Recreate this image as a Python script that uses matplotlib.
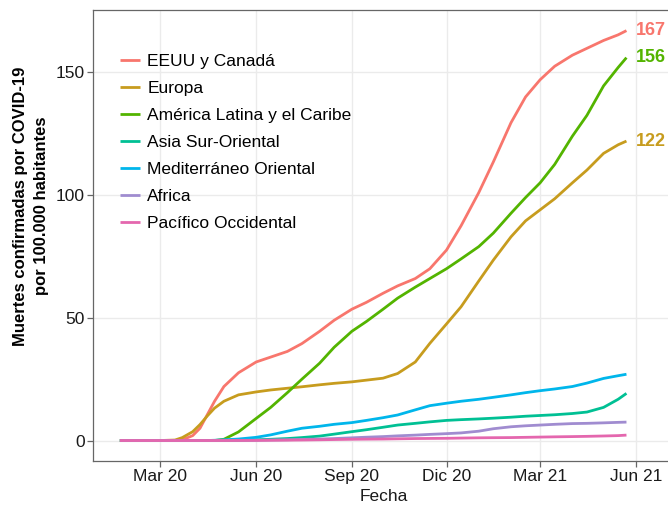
import numpy as np
import pandas as pd
import matplotlib
matplotlib.use('Agg')
import matplotlib.pyplot as plt

plt.rcParams['font.family'] = ['Liberation Sans', 'DejaVu Sans']

# Data
fechas = pd.to_datetime([
    '2020-01-22', '2020-02-15', '2020-03-01', '2020-03-15', '2020-03-22',
    '2020-04-01', '2020-04-08', '2020-04-15', '2020-04-22', '2020-05-01',
    '2020-05-15', '2020-06-01', '2020-06-15', '2020-07-01', '2020-07-15',
    '2020-08-01', '2020-08-15', '2020-09-01', '2020-09-15', '2020-10-01',
    '2020-10-15', '2020-11-01', '2020-11-15', '2020-12-01', '2020-12-15',
    '2021-01-01', '2021-01-15', '2021-02-01', '2021-02-15', '2021-03-01',
    '2021-03-15', '2021-04-01', '2021-04-15', '2021-05-01', '2021-05-15',
    '2021-05-23'])

eeuu_canada = [0, 0, 0, 0, 0.3, 2, 5, 10.5, 16, 22, 27.6, 32, 34, 36.3, 39.5,
               44.5, 49, 53.5, 56.3, 60, 63, 66, 70, 77.6, 87.5, 101, 113.5,
               129.5, 140, 147, 152.5, 157, 159.8, 163, 165.3, 167]
europa = [0, 0, 0, 0.2, 1.2, 3.6, 6.5, 10, 13.2, 16, 18.6, 19.8, 20.6, 21.3,
          21.9, 22.7, 23.3, 23.9, 24.6, 25.4, 27.3, 32, 39.6, 47.5, 54.5, 65,
          73.5, 83, 89.5, 94, 98.5, 105, 110.2, 117, 120.5, 122]
america_latina = [0, 0, 0, 0, 0, 0, 0, 0, 0, 0.5, 3.5, 9, 13.5, 19.5, 25,
                  31.5, 38, 44.5, 48.5, 53.5, 58, 62.5, 66, 70, 74, 79, 84.5,
                  92.6, 99, 105, 112.5, 124, 132.5, 144.5, 152, 156]
asia_sur = [0, 0, 0, 0, 0, 0, 0, 0, 0, 0.05, 0.1, 0.3, 0.5, 0.8, 1.2, 1.8,
            2.6, 3.6, 4.4, 5.4, 6.3, 7, 7.6, 8.2, 8.5, 8.8, 9.1, 9.5, 9.9,
            10.2, 10.5, 11, 11.6, 13.5, 16.8, 19.2]
mediterraneo = [0, 0, 0, 0, 0, 0, 0, 0, 0.1, 0.3, 0.6, 1.3, 2.3, 3.8, 5, 5.8,
                6.6, 7.3, 8.2, 9.3, 10.4, 12.5, 14.2, 15.2, 16, 16.8, 17.6,
                18.6, 19.5, 20.3, 21, 22, 23.4, 25.3, 26.4, 27]
africa = [0, 0, 0, 0, 0, 0, 0, 0, 0, 0.05, 0.08, 0.1, 0.2, 0.3, 0.45, 0.6,
          0.8, 1.1, 1.35, 1.6, 1.9, 2.2, 2.5, 2.8, 3.1, 3.8, 4.8, 5.6, 6.0,
          6.3, 6.6, 6.9, 7.0, 7.2, 7.4, 7.5]
pacifico = [0, 0, 0, 0, 0, 0, 0, 0, 0, 0, 0.02, 0.05, 0.1, 0.15, 0.2, 0.3,
            0.4, 0.5, 0.55, 0.6, 0.7, 0.8, 0.85, 0.9, 1.0, 1.1, 1.15, 1.2,
            1.3, 1.4, 1.5, 1.6, 1.7, 1.85, 2.0, 2.2]

regiones = ['EEUU y Canadá', 'Europa', 'América Latina y el Caribe',
            'Asia Sur-Oriental', 'Mediterráneo Oriental', 'Africa',
            'Pacífico Occidental']
series = [eeuu_canada, europa, america_latina, asia_sur, mediterraneo,
          africa, pacifico]
colores = ['#F8766D', '#C79C1E', '#53B400', '#00C094', '#00B6EB',
           '#A08CD0', '#E467AE']

tick_fechas = pd.to_datetime(['2020-03-01', '2020-06-01', '2020-09-01',
                              '2020-12-01', '2021-03-01', '2021-06-01'])
tick_labels = ['Mar 20', 'Jun 20', 'Sep 20', 'Dic 20', 'Mar 21', 'Jun 21']

fig = plt.figure(figsize=(6.68, 5.08), dpi=100)
ax = fig.add_axes([0.139, 0.0925, 0.872, 0.8875])

for nombre, valores, color in zip(regiones, series, colores):
    ax.plot(fechas, valores, color=color, lw=2.0, label=nombre,
            solid_capstyle='butt')

# value labels at the end of the three top lines
for valores, color in zip(series[:3], colores[:3]):
    ax.text(pd.Timestamp('2021-06-01'), valores[-1], '%d' % round(valores[-1]),
            color=color, fontsize=13, fontweight='bold', ha='left', va='center')

ax.set_xlim(pd.Timestamp('2019-12-27'), pd.Timestamp('2021-07-09'))
ax.set_ylim(-8.35, 175.35)
ax.set_xticks(tick_fechas)
ax.set_xticklabels(tick_labels)
ax.set_yticks([0, 50, 100, 150])

ax.grid(True, color='#EBEBEB', lw=1.0)
ax.set_axisbelow(True)
for s in ax.spines.values():
    s.set_color('#666666')
    s.set_linewidth(0.9)
ax.tick_params(axis='both', length=4, width=0.9, color='#666666',
               labelsize=12.5, labelcolor='#1a1a1a', pad=2)

ax.set_xlabel('Fecha', fontsize=12.5, color='#1a1a1a', labelpad=3)
fig.text(31 / 668, 1 - 206 / 508,
         'Muertes confirmadas por COVID-19\npor 100.000 habitantes',
         rotation=90, ha='center', va='center', multialignment='center',
         fontsize=12, fontweight='bold', linespacing=1.45)

ax.legend(loc='upper left', bbox_to_anchor=(0.046, 0.903), frameon=False,
          fontsize=12.5, handlelength=1.15, handletextpad=0.45,
          labelspacing=0.68, borderpad=0, borderaxespad=0)

plt.savefig('out.png', dpi=100)
